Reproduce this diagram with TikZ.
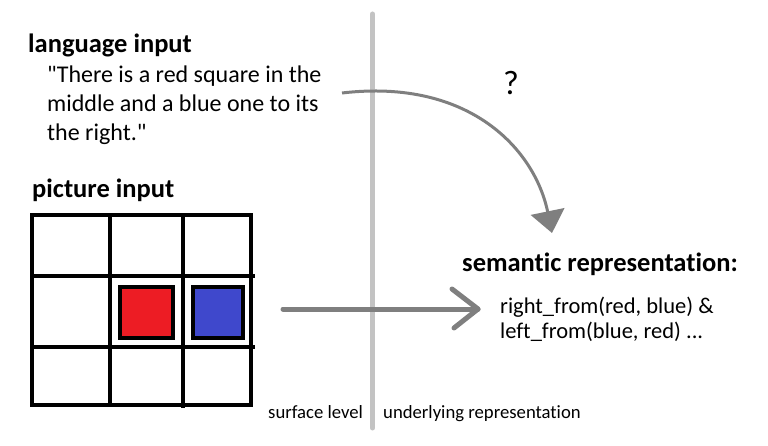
\documentclass[tikz,border=0pt]{standalone}
\usepackage{fontspec}
\setmainfont{Carlito}[Ligatures={NoCommon,TeXOff}]
\usetikzlibrary{arrows.meta}
\definecolor{sepgray}{HTML}{C3C3C3}
\definecolor{arrgray}{HTML}{7F7F7F}
\definecolor{sqred}{HTML}{ED1C24}
\definecolor{sqblue}{HTML}{3F48CC}
\begin{document}
\begin{tikzpicture}[x=1pt,y=-1pt,
  title/.style={anchor=base west,inner sep=0,font=\fontsize{26.5}{30}\bfseries\selectfont},
  body/.style={anchor=base west,inner sep=0,font=\fontsize{24}{29}\selectfont},
  code/.style={anchor=base west,inner sep=0,font=\fontsize{22.5}{26}\selectfont},
  small/.style={anchor=base west,inner sep=0,font=\fontsize{18.7}{22}\selectfont},
  gridline/.style={line width=4pt,black},
  conn/.style={arrgray}]
\useasboundingbox (0,0) rectangle (768,446);
% separator
\draw[sepgray,line width=5pt,line cap=round] (372.5,14) -- (372.5,428);
% texts
\node[title] (lang) at (28,53) {language input};
\node[body] (quote1) at (47,83) {"There is a red square in the};
\node[body] (quote2) at (47,112) {middle and a blue one to its};
\node[body] (quote3) at (47,141) {the right."};
\node[title] (pic) at (32,198) {picture input};
\node[title] (sem) at (462,272) {semantic representation:};
\node[code] (c1) at (500,313) {right\_from(red, blue) \&};
\node[code] (c2) at (500,338) {left\_from(blue, red) ...};
\node[small] (surf) at (268,418) {surface level};
\node[small] (under) at (383,418) {underlying representation};
\node[anchor=base west,inner sep=0,font=\fontsize{34}{38}\selectfont] (q) at (503,95) {?};
% grid
\draw[gridline] (32,215) rectangle (251,405);
\draw[gridline] (110,215) -- (110,405);
\draw[gridline] (183,215) -- (183,408);
\draw[gridline] (32,276) -- (255,276);
\draw[gridline] (32,347) -- (255,347);
\draw[gridline,fill=sqred] (120,287) rectangle (173,338);
\draw[gridline,fill=sqblue] (193,287) rectangle (243,338);
% curved arrow
\coordinate (cs) at (342,93);
\coordinate (ce) at (552,233);
\draw[conn,line width=3pt,-{Triangle[length=22pt,width=34pt]}] (cs) .. controls (470,78) and (535,150) .. (ce);
% straight arrow
\coordinate (as) at (283,309);
\coordinate (ae) at (478,309);
\coordinate (w1) at (452,289);
\coordinate (w2) at (454,328);
\draw[conn,line width=5pt,line cap=round] (as) -- (ae);
\draw[conn,line width=5pt,line cap=round,line join=round] (w1) -- (ae) -- (w2);
\end{tikzpicture}
\end{document}
